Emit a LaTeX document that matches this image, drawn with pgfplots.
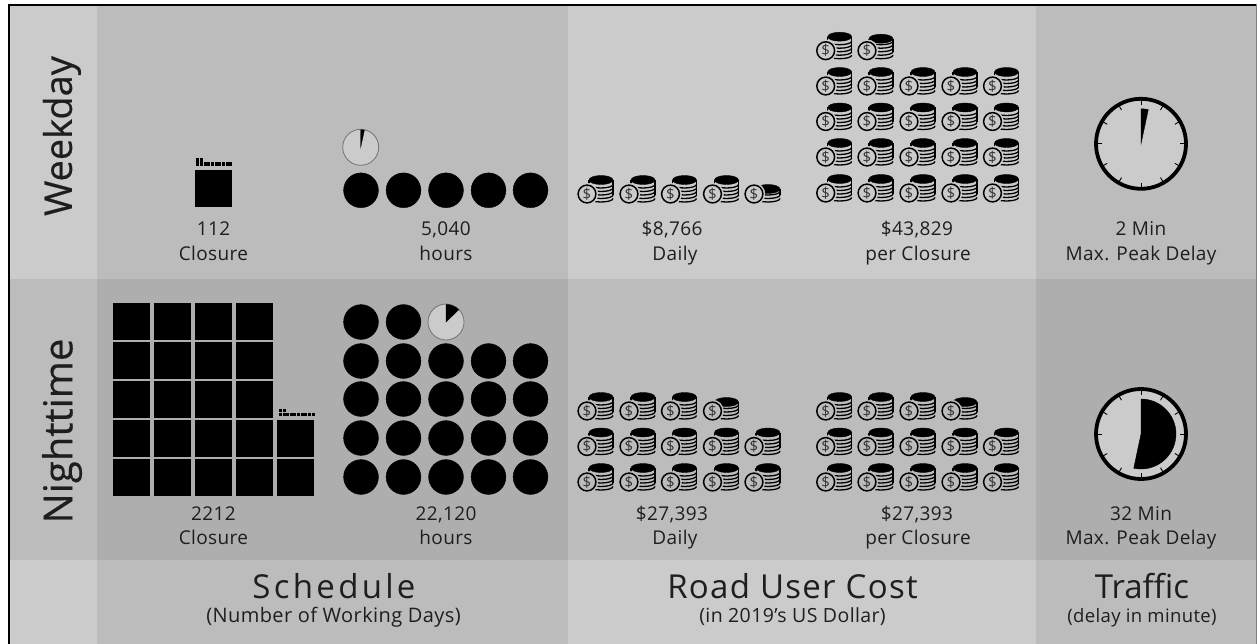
\documentclass[border=0pt]{standalone}
\usepackage{pgfplots}
\usepackage{fontspec}
\pgfplotsset{compat=1.18}
\setmainfont{Open Sans}
\definecolor{lightbg}{HTML}{CBCBCB}
\definecolor{midbg}{HTML}{BCBCBC}
\definecolor{darkbg}{HTML}{AEAEAE}
\definecolor{txt}{HTML}{1E1E1E}
\newfontfamily\spacedA[LetterSpace=10]{Open Sans}
\newfontfamily\spacedB[LetterSpace=4]{Open Sans}
\newfontfamily\spacedC[LetterSpace=0]{Open Sans}
\newfontfamily\spacedb[LetterSpace=2]{Open Sans}
\newfontfamily\boldish[FakeBold=0.4]{Open Sans}
\newcommand\defcoin[3]{%
\pgfdeclareplotmark{#1}{%
 \begin{scope}[x=1pt,y=1pt]
  \fill[black] (14,#3) ellipse[x radius=12,y radius=4.5];
  \foreach \yy in {-4.5,-1,2.5,6,9.5}{%
    \ifdim\yy pt<#3 pt
      \draw[black,line width=1.3] (2,\yy) arc[start angle=180,end angle=360,x radius=12,y radius=3.5];
    \fi}
  \draw[black,line width=1.2] (2,-3) -- (2,#3) (26,-1) -- (26,#3);
  \fill[#2] (0,0) circle[radius=11];
  \draw[black,line width=1.5] (0,0) circle[radius=8.9];
  \node[text=black!80,inner sep=0,font=\fontsize{15}{15}\selectfont] at (0,0) {\$};
 \end{scope}
}}
\defcoin{coinAf}{lightbg}{14}
\defcoin{coinAq}{lightbg}{12}
\defcoin{coinAl}{lightbg}{5}
\defcoin{coinBf}{midbg}{14}
\defcoin{coinBh}{midbg}{9}
\pgfdeclareplotmark{bigsq}{\begin{scope}[x=1pt,y=1pt]\fill[black] (-18,-17.9) rectangle (18,17.9);\end{scope}}
\pgfdeclareplotmark{smallsq}{\begin{scope}[x=1pt,y=1pt]\fill[black] (-1,-1.3) rectangle (1,1.3);\end{scope}}
\pgfdeclareplotmark{bigc}{\begin{scope}[x=1pt,y=1pt]\fill[black] (0,0) circle[radius=17.4];\end{scope}}
\newcommand\defpie[2]{\pgfdeclareplotmark{#1}{\begin{scope}[x=1pt,y=1pt]%
  \filldraw[fill=lightbg,draw=black!55,line width=0.8] (0,0) circle[radius=18];
  \fill[black] (0,0) -- (0,17.6) arc[start angle=90,end angle=#2,radius=17.6] -- cycle;\end{scope}}}
\defpie{pieA}{78}
\defpie{pieB}{44}
\newcommand\defclock[2]{\pgfdeclareplotmark{#1}{\begin{scope}[x=1pt,y=1pt]%
  \filldraw[fill=lightbg,draw=black,line width=3.8] (0,0) circle[radius=45];
  \foreach \a in {0,30,...,330}{\draw[black,line width=0.9] (\a:44) -- (\a:39);}
  \fill[black] (0,0) -- (0,35) arc[start angle=90,end angle=#2,radius=35] -- cycle;\end{scope}}}
\defclock{clockA}{78}
\defclock{clockB}{-102}
\newcommand\panel[5]{\addplot[fill=#5,draw=none,forget plot] coordinates {(#1,#3) (#2,#3) (#2,#4) (#1,#4)} -- cycle;}
\begin{document}
\begin{tikzpicture}
\begin{axis}[scale only axis,width=1257pt,height=644pt,xmin=0,xmax=1257,ymin=0,ymax=644,y dir=reverse,axis lines=none,clip=false]
\panel{0}{1257}{0}{644}{white}
\panel{8.5}{97}{4}{279}{lightbg}
\panel{97}{568}{4}{279}{midbg}
\panel{568}{1036}{4}{279}{lightbg}
\panel{1036}{1256}{4}{279}{midbg}
\panel{8.5}{97}{279}{560}{midbg}
\panel{97}{568}{279}{560}{darkbg}
\panel{568}{1036}{279}{560}{midbg}
\panel{1036}{1256}{279}{560}{darkbg}
\panel{8.5}{97}{560}{644}{lightbg}
\panel{97}{568}{560}{644}{midbg}
\panel{568}{1036}{560}{644}{lightbg}
\panel{1036}{1256}{560}{644}{midbg}
\panel{8.3}{10}{4}{644}{black}
\panel{8.3}{1256}{4}{6.3}{black}
\panel{1255.6}{1257}{4}{644}{black!50}
% closures
\addplot[only marks,mark=bigsq] coordinates {(212.8,188.5)
 (131,321.5)(172,321.5)(213,321.5)(254,321.5)
 (131,360.5)(172,360.5)(213,360.5)(254,360.5)
 (131,399.5)(172,399.5)(213,399.5)(254,399.5)
 (131,438.5)(172,438.5)(213,438.5)(254,438.5)(295,438.5)
 (131,477.5)(172,477.5)(213,477.5)(254,477.5)(295,477.5)};
\addplot[only marks,mark=smallsq] coordinates {
 (197.5,159.8)(201.2,159.8)
 (197.5,163.8)(201.2,163.8)(204.8,163.8)(208.5,163.8)(212.1,163.8)(215.8,163.8)(219.5,163.8)(223.1,163.8)(226.8,163.8)(230.4,163.8)
 (280,410)(283.7,410)
 (280,414)(283.7,414)(287.3,414)(291,414)(294.6,414)(298.3,414)(302,414)(305.6,414)(309.3,414)(312.9,414)};
% hours
\addplot[only marks,mark=bigc] coordinates {(361,190.3)(403.5,190.3)(446,190.3)(488.5,190.3)(530.5,190.3)
 (361,322)(403.5,322)
 (361,361)(403.5,361)(446,361)(488.5,361)(530.5,361)
 (361,399)(403.5,399)(446,399)(488.5,399)(530.5,399)
 (361,438)(403.5,438)(446,438)(488.5,438)(530.5,438)
 (361,477)(403.5,477)(446,477)(488.5,477)(530.5,477)};
\addplot[only marks,mark=pieA] coordinates {(360.7,147.3)};
\addplot[only marks,mark=pieB] coordinates {(446,322)};
% coins
\addplot[only marks,mark=coinAf] coordinates {(587,194)(629,194)(670.5,194)(712.5,194)
 (825.7,50.7)
 (825.7,86)(867,86)(909,86)(951,86)(992.5,86)
 (825.7,121.5)(867,121.5)(909,121.5)(951,121.5)(992.5,121.5)
 (825.7,157)(867,157)(909,157)(951,157)(992.5,157)
 (825.7,193)(867,193)(909,193)(951,193)(992.5,193)};
\addplot[only marks,mark=coinAq] coordinates {(867,50.7)};
\addplot[only marks,mark=coinAl] coordinates {(754,194)};
\addplot[only marks,mark=coinBf] coordinates {
 (587,411)(629,411)(670.5,411)
 (587,446.5)(629,446.5)(670.5,446.5)(712.5,446.5)(754,446.5)
 (587,482)(629,482)(670.5,482)(712.5,482)(754,482)
 (825.7,411)(867,411)(909,411)
 (825.7,446.5)(867,446.5)(909,446.5)(951,446.5)(992.5,446.5)
 (825.7,482)(867,482)(909,482)(951,482)(992.5,482)};
\addplot[only marks,mark=coinBh] coordinates {(712.5,411)(951,411)};
% clocks
\addplot[only marks,mark=clockA] coordinates {(1141,143.8)};
\addplot[only marks,mark=clockB] coordinates {(1141,434)};
% text
\tikzset{lab/.style={text=txt,inner sep=0,anchor=base,font=\fontsize{19}{19}\spacedb}}
\node[lab] at (axis cs:213.5,236) {112};
\node[lab] at (axis cs:213.5,260) {Closure};
\node[lab] at (axis cs:446,236) {5,040};
\node[lab] at (axis cs:446,260) {hours};
\node[lab] at (axis cs:672,236) {\$8,766};
\node[lab] at (axis cs:675,260) {Daily};
\node[lab] at (axis cs:917,236) {\$43,829};
\node[lab] at (axis cs:918,260) {per Closure};
\node[lab] at (axis cs:1141,236) {2 Min};
\node[lab] at (axis cs:1141,260) {Max. Peak Delay};
\node[lab] at (axis cs:213.5,520) {2212};
\node[lab] at (axis cs:213.5,544) {Closure};
\node[lab] at (axis cs:446,520) {22,120};
\node[lab] at (axis cs:446,544) {hours};
\node[lab] at (axis cs:672,520) {\$27,393};
\node[lab] at (axis cs:675,544) {Daily};
\node[lab] at (axis cs:917,520) {\$27,393};
\node[lab] at (axis cs:918,544) {per Closure};
\node[lab] at (axis cs:1141,520) {32 Min};
\node[lab] at (axis cs:1141,544) {Max. Peak Delay};
\tikzset{big/.style={text=txt,inner sep=0,anchor=base}}
\node[big,font=\fontsize{33}{33}\spacedA] at (axis cs:334,598) {Schedule};
\node[big,font=\fontsize{33}{33}\spacedB] at (axis cs:792.5,598) {Road User Cost};
\node[big,font=\fontsize{33}{33}\spacedC] at (axis cs:1142,598) {Traffic};
\node[lab,font=\fontsize{20}{20}\spacedb] at (axis cs:333.5,622) {(Number of Working Days)};
\node[lab,font=\fontsize{19.5}{19.5}\spacedb] at (axis cs:792.5,622) {(in 2019’s US Dollar)};
\node[lab,font=\fontsize{18.5}{18.5}\spacedb] at (axis cs:1142,622) {(delay in minute)};
\tikzset{side/.style={text=txt,inner sep=0,anchor=center,rotate=90}}
\node[side,font=\fontsize{38}{38}\boldish] at (axis cs:62,136) {Weekday};
\node[side,font=\fontsize{40}{40}\boldish] at (axis cs:62,431) {Nighttime};
\end{axis}
\end{tikzpicture}
\end{document}
